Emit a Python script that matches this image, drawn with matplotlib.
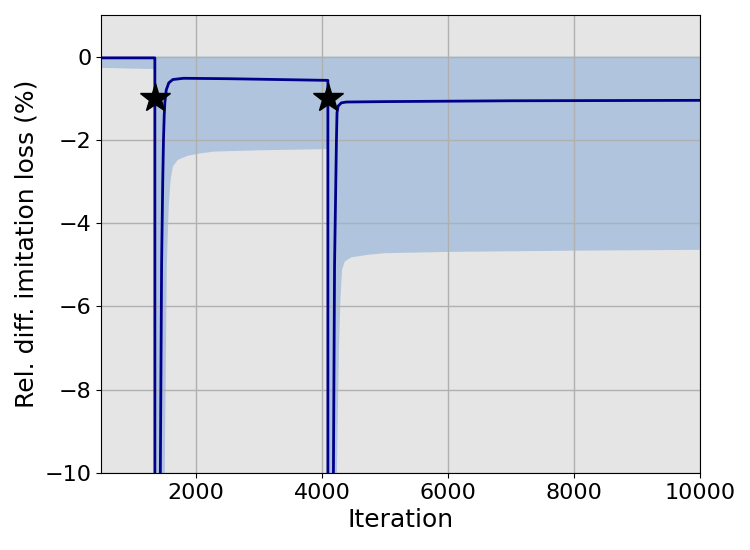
import matplotlib
matplotlib.use("Agg")
import matplotlib.pyplot as plt

# Mean relative difference (line)
line_x = [490, 1345, 1346, 1425, 1432, 1452, 1470, 1482, 1494, 1504, 1526, 1566, 1630,
          1800, 2500, 3300, 4092, 4093, 4170, 4180, 4198, 4228, 4237, 4254, 4305, 4385,
          5000, 7000, 10000]
line_y = [-0.03, -0.03, -60, -60, -10, -5.0, -3.0, -2.0, -1.4, -1.1, -0.8, -0.63, -0.55,
          -0.52, -0.53, -0.55, -0.57, -60, -60, -10, -5.0, -2.0, -1.35, -1.19, -1.11, -1.09,
          -1.08, -1.06, -1.05]

# Shaded band: from 0 down to lower bound
band_x = [490, 1345, 1346, 1495, 1502, 1535, 1565, 1595, 1630, 1710, 1867, 2080, 2291,
          3000, 4092, 4093, 4225, 4235, 4268, 4292, 4317, 4360, 4465, 4724, 4994,
          6000, 8000, 10000]
band_lo = [-0.27, -0.30, -60, -60, -10, -5.0, -3.6, -2.96, -2.64, -2.48, -2.38, -2.32, -2.28,
           -2.25, -2.22, -60, -60, -10, -7.0, -5.8, -5.12, -4.92, -4.82, -4.76, -4.72,
           -4.69, -4.66, -4.64]
band_hi = [0.0] * len(band_x)

# Event markers
star_x = [1345, 4090]
star_y = [-1, -1]

xticks = [2000, 4000, 6000, 8000, 10000]
yticks = [0, -2, -4, -6, -8, -10]

fig = plt.figure(figsize=(7.5, 5.5), dpi=100)
ax = fig.add_axes([101/750, 1 - 473/550, (700-101)/750, (473-15)/550])
ax.set_facecolor("#E5E5E5")

ax.fill_between(band_x, band_lo, band_hi, color="lightsteelblue", linewidth=0, zorder=1)
ax.grid(True, color="#b0b0b0", linewidth=1.0, zorder=1.5)
ax.set_axisbelow("line")
ax.plot(line_x, line_y, color="darkblue", linewidth=2.0, zorder=2)
ax.plot(star_x, star_y, linestyle="none", marker="*", color="black", markersize=22, zorder=3)

ax.set_xlim(490, 10000)
ax.set_ylim(-10, 1)
ax.set_xticks(xticks)
ax.set_yticks(yticks)
ax.tick_params(labelsize=16)
ax.set_xlabel("Iteration", fontsize=18)
ax.set_ylabel("Rel. diff. imitation loss (%)", fontsize=18)

fig.savefig("out.png", dpi=100)
